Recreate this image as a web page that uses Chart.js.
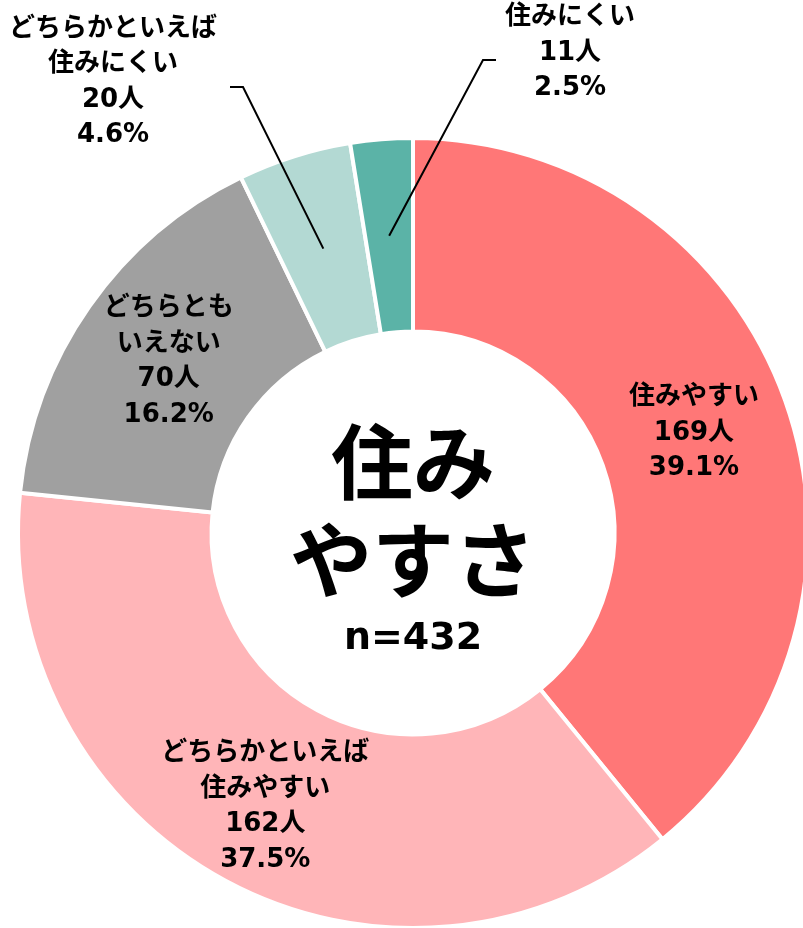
<!DOCTYPE html>
<html>
<head>
<meta charset="utf-8">
<script src="https://cdn.jsdelivr.net/npm/chart.js@4.4.0/dist/chart.umd.min.js"></script>
<style>
  html, body { margin: 0; padding: 0; background: #fff; overflow: hidden; }
  #chart { position: absolute; left: 0; top: 0; }
</style>
</head>
<body>
<canvas id="chart" width="826" height="940"></canvas>
<script>
// data
const categories = ['住みやすい', 'どちらかといえば住みやすい', 'どちらともいえない', 'どちらかといえば住みにくい', '住みにくい']
const labelLines = [['住みやすい'], ['どちらかといえば', '住みやすい'], ['どちらとも', 'いえない'], ['どちらかといえば', '住みにくい'], ['住みにくい']]
const counts = [169, 162, 70, 20, 11]
const percents = ['39.1%', '37.5%', '16.2%', '4.6%', '2.5%']
const colors = ['#FF7777', '#FFB5B8', '#A0A0A0', '#B3D9D3', '#5BB3A7']
const centerTitle = ['住み', 'やすさ']
const centerNote = 'n=432'

const FONT = "'DejaVu Sans', 'Noto Sans CJK JP', sans-serif"
const LINE_H = 35.5
// extra radial push for inside labels, by slice
const radialShift = [0, 13, 0, 0, 0]

// outside labels: offsets from chart centre (elbow of leader line and text block centre)
const outside = {
  3: { elbow: [-170, -446], end: [-183, -446], text: [-300, -451] },
  4: { elbow: [70, -473], end: [83, -473], text: [157, -480] }
}

function drawLines(ctx, lines, cx, cy){
  const top = cy - (lines.length - 1) * LINE_H / 2
  lines.forEach((t, k) => ctx.fillText(t, cx, top + k * LINE_H))
}

const labelPlugin = {
  id: 'labels',
  afterDatasetsDraw(chart){
    const ctx = chart.ctx
    const meta = chart.getDatasetMeta(0)
    ctx.save()
    ctx.fillStyle = '#000'
    ctx.textAlign = 'center'
    ctx.textBaseline = 'middle'
    let cx = 0, cy = 0
    meta.data.forEach((arc, i) => {
      const p = arc.getProps(['x', 'y', 'startAngle', 'endAngle', 'innerRadius', 'outerRadius'], true)
      cx = p.x; cy = p.y
      const mid = (p.startAngle + p.endAngle) / 2
      const rMid = (p.innerRadius + p.outerRadius) / 2
      const px = p.x + Math.cos(mid) * rMid
      const py = p.y + Math.sin(mid) * rMid
      const lines = [...labelLines[i], counts[i] + '人', percents[i]]
      ctx.font = 'bold 26px ' + FONT
      const o = outside[i]
      if (o){
        ctx.strokeStyle = '#000'
        ctx.lineWidth = 2
        ctx.beginPath()
        ctx.moveTo(px, py)
        ctx.lineTo(p.x + o.elbow[0], p.y + o.elbow[1])
        ctx.lineTo(p.x + o.end[0], p.y + o.end[1])
        ctx.stroke()
        drawLines(ctx, lines, p.x + o.text[0], p.y + o.text[1])
      } else {
        const r = rMid + radialShift[i]
        drawLines(ctx, lines, p.x + Math.cos(mid) * r, p.y + Math.sin(mid) * r)
      }
    })
    // centre title
    ctx.font = 'bold 82px ' + FONT
    ctx.fillText(centerTitle[0], cx, cy - 61)
    ctx.fillText(centerTitle[1], cx, cy + 37)
    ctx.font = 'bold 38px ' + FONT
    ctx.fillText(centerNote, cx, cy + 106)
    ctx.restore()
  }
}

new Chart(document.getElementById('chart'), {
  type: 'doughnut',
  data: {
    labels: categories,
    datasets: [{
      data: counts,
      backgroundColor: colors,
      borderColor: '#fff',
      borderWidth: 4
    }]
  },
  options: {
    responsive: false,
    animation: false,
    cutout: '51%',
    layout: { padding: { left: 16, right: 16, top: 136, bottom: 10 } },
    plugins: {
      legend: { display: false },
      tooltip: { enabled: false }
    }
  },
  plugins: [labelPlugin]
})
</script>
</body>
</html>
